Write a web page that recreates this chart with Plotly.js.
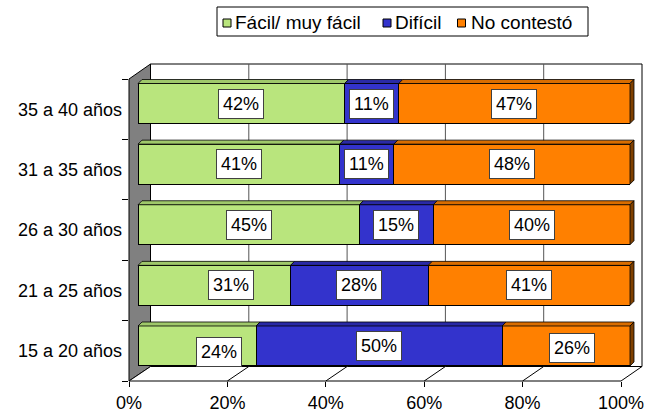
<!DOCTYPE html>
<html>
<head>
<meta charset="utf-8">
<script src="https://cdn.plot.ly/plotly-3.0.1.min.js"></script>
<style>html,body{margin:0;padding:0;background:#fff;}#chart{width:657px;height:414px;}</style>
</head>
<body>
<div id="chart"></div>
<script>
// ---- data ----
const categories = ['15 a 20 años','21 a 25 años','26 a 30 años','31 a 35 años','35 a 40 años'];
const facil = [24, 31, 45, 41, 42];
const dificil = [50, 28, 15, 11, 11];
const noContesto = [26, 41, 40, 48, 47];
const seriesNames = ['Fácil/ muy fácil', 'Difícil', 'No contestó'];
const xTicks = [0, 20, 40, 60, 80, 100];
const xTickLabels = ['0%', '20%', '40%', '60%', '80%', '100%'];

// ---- style / geometry ----
const colors = ['#B9E57D', '#3333CC', '#FF8000'];
const topColors = ['#9FC86A', '#2A2AA6', '#D96D00'];
const sideColor = '#7F4000';
const FONT = '"Liberation Sans", Arial, sans-serif';
const W = 657, H = 414;
const M = {l: 129, r: 15, t: 64, b: 33};
const PW = W - M.l - M.r, PH = H - M.t - M.b;
const px = x => (x - M.l) / PW;
const py = y => (M.t + PH - y) / PH;
const G = {barX0: 138, barX100: 630, rowTop: 73.2, rowBot: 376.3, barHalf: 20,
  frontX0: 129, frontX100: 621, frontTop: 79, frontBot: 381,
  backX0: 150.5, backX100: 642, backTop: 64, backBot: 366.5, depth: 4};
const rowStep = (G.rowBot - G.rowTop) / categories.length;
const barWidth = 2 * G.barHalf / rowStep;
const bx = v => G.barX0 + v * (G.barX100 - G.barX0) / 100;
const rowY = i => G.rowBot - (i + 0.5) * rowStep;

const series = [facil, dificil, noContesto];

const traces = series.map((vals, s) => ({
  type: 'bar', orientation: 'h', name: seriesNames[s],
  x: vals, y: categories, width: barWidth,
  marker: {color: colors[s], line: {color: '#000', width: 1}},
  hoverinfo: 'x+y+name', showlegend: false, xaxis: 'x', yaxis: 'y'
}));
traces.push({type: 'scatter', mode: 'markers', x: categories.map(() => null), y: categories,
  xaxis: 'x2', yaxis: 'y2', showlegend: false, hoverinfo: 'skip'});

const shapes = [];
const pathOf = pts => 'M' + pts.map(p => px(p[0]) + ',' + py(p[1])).join('L') + 'Z';
// walls
shapes.push({type: 'rect', xref: 'paper', yref: 'paper', layer: 'below',
  x0: px(G.backX0), x1: px(G.backX100), y0: py(G.backBot), y1: py(G.backTop),
  fillcolor: '#fff', line: {color: '#000', width: 1}});
shapes.push({type: 'path', xref: 'paper', yref: 'paper', layer: 'below',
  path: pathOf([[G.frontX0, G.frontTop], [G.backX0, G.backTop], [G.backX0, G.backBot], [G.frontX0, G.frontBot]]),
  fillcolor: '#808080', line: {color: '#000', width: 1}});
shapes.push({type: 'path', xref: 'paper', yref: 'paper', layer: 'below',
  path: pathOf([[G.frontX0, G.frontBot], [G.backX0, G.backBot], [G.backX100, G.backBot], [G.frontX100, G.frontBot]]),
  fillcolor: '#fff', line: {color: '#000', width: 1}});
// gridlines on back wall and floor
xTicks.slice(1, -1).forEach(v => {
  const xb = G.backX0 + v * (G.backX100 - G.backX0) / 100;
  const xf = G.frontX0 + v * (G.frontX100 - G.frontX0) / 100;
  shapes.push({type: 'line', xref: 'paper', yref: 'paper', layer: 'below',
    x0: px(xb), x1: px(xb), y0: py(G.backBot), y1: py(G.backTop), line: {color: '#555', width: 1}});
  shapes.push({type: 'line', xref: 'paper', yref: 'paper', layer: 'below',
    x0: px(xf), x1: px(xb), y0: py(G.frontBot), y1: py(G.backBot), line: {color: '#000', width: 1}});
});
// 3D top and side faces of bars
const d = G.depth;
categories.forEach((c, i) => {
  const yc = rowY(i), yt = yc - G.barHalf, yb = yc + G.barHalf;
  let cum = 0;
  series.forEach((vals, s) => {
    const a = bx(cum), b = bx(cum + vals[i]);
    shapes.push({type: 'path', xref: 'paper', yref: 'paper', layer: 'above',
      path: pathOf([[a, yt], [a + d, yt - d], [b + d, yt - d], [b, yt]]),
      fillcolor: topColors[s], line: {color: '#000', width: 0.8}});
    cum += vals[i];
  });
  const e = bx(cum);
  shapes.push({type: 'path', xref: 'paper', yref: 'paper', layer: 'above',
    path: pathOf([[e, yt], [e + d, yt - d], [e + d, yb - d], [e, yb]]),
    fillcolor: sideColor, line: {color: '#000', width: 0.8}});
});

// data labels
const labelShift = {'0-0': [22, -6], '0-1': [17, 0], '2-0': [6, -2]};
const annotations = [];
categories.forEach((c, i) => {
  let cum = 0;
  series.forEach((vals, s) => {
    const v = vals[i];
    const sh = labelShift[s + '-' + i] || [0, 0];
    annotations.push({xref: 'x', yref: 'y', x: cum + v / 2, y: c, text: v + '%',
      showarrow: false, bgcolor: '#fff', bordercolor: '#404040', borderwidth: 1, borderpad: 4,
      xshift: sh[0], yshift: sh[1], font: {family: FONT, size: 18, color: '#000'}});
    cum += v;
  });
});

// legend (drawn)
const legBox = {x0: 217, x1: 588, y0: 7, y1: 36};
shapes.push({type: 'rect', xref: 'paper', yref: 'paper', layer: 'above',
  x0: px(legBox.x0), x1: px(legBox.x1), y0: py(legBox.y1), y1: py(legBox.y0),
  fillcolor: '#fff', line: {color: '#000', width: 1}});
const legSw = [223, 383, 457.5], legTx = [232.5, 393, 469];
seriesNames.forEach((n, s) => {
  shapes.push({type: 'rect', xref: 'paper', yref: 'paper', layer: 'above',
    x0: px(legSw[s]), x1: px(legSw[s] + 8), y0: py(27), y1: py(19),
    fillcolor: colors[s], line: {color: '#000', width: 1}});
  annotations.push({xref: 'paper', yref: 'paper', x: px(legTx[s]), y: py(23), xanchor: 'left', yanchor: 'middle',
    text: n, showarrow: false, font: {family: FONT, size: 19, color: '#000'}});
});

const layout = {
  width: W, height: H, margin: M, paper_bgcolor: '#fff', plot_bgcolor: 'rgba(0,0,0,0)',
  barmode: 'stack', showlegend: false, font: {family: FONT, size: 18, color: '#000'},
  xaxis: {domain: [px(G.barX0), px(G.barX100)], range: [0, 100], visible: false, fixedrange: true},
  yaxis: {domain: [py(G.rowBot), py(G.rowTop)], type: 'category', categoryorder: 'array',
    categoryarray: categories, range: [-0.5, categories.length - 0.5], visible: false, fixedrange: true},
  xaxis2: {domain: [0, px(G.frontX100)], anchor: 'y2', range: [0, 100], tickvals: xTicks, ticktext: xTickLabels,
    ticks: 'outside', ticklen: 5, tickwidth: 1, tickcolor: '#000', showgrid: false, zeroline: false,
    showline: false, tickfont: {family: FONT, size: 18, color: '#000'}, fixedrange: true},
  yaxis2: {domain: [0, py(G.frontTop)], anchor: 'x2', type: 'category', categoryorder: 'array',
    categoryarray: categories, range: [-0.5, categories.length - 0.5], tickson: 'boundaries',
    ticks: 'outside', ticklen: 6, tickwidth: 1, tickcolor: '#000', showgrid: false, zeroline: false,
    showline: false, ticklabelstandoff: 6, tickfont: {family: FONT, size: 18, color: '#000'}, fixedrange: true},
  shapes: shapes, annotations: annotations
};

Plotly.newPlot('chart', traces, layout, {displayModeBar: false, staticPlot: true});
</script>
</body>
</html>
